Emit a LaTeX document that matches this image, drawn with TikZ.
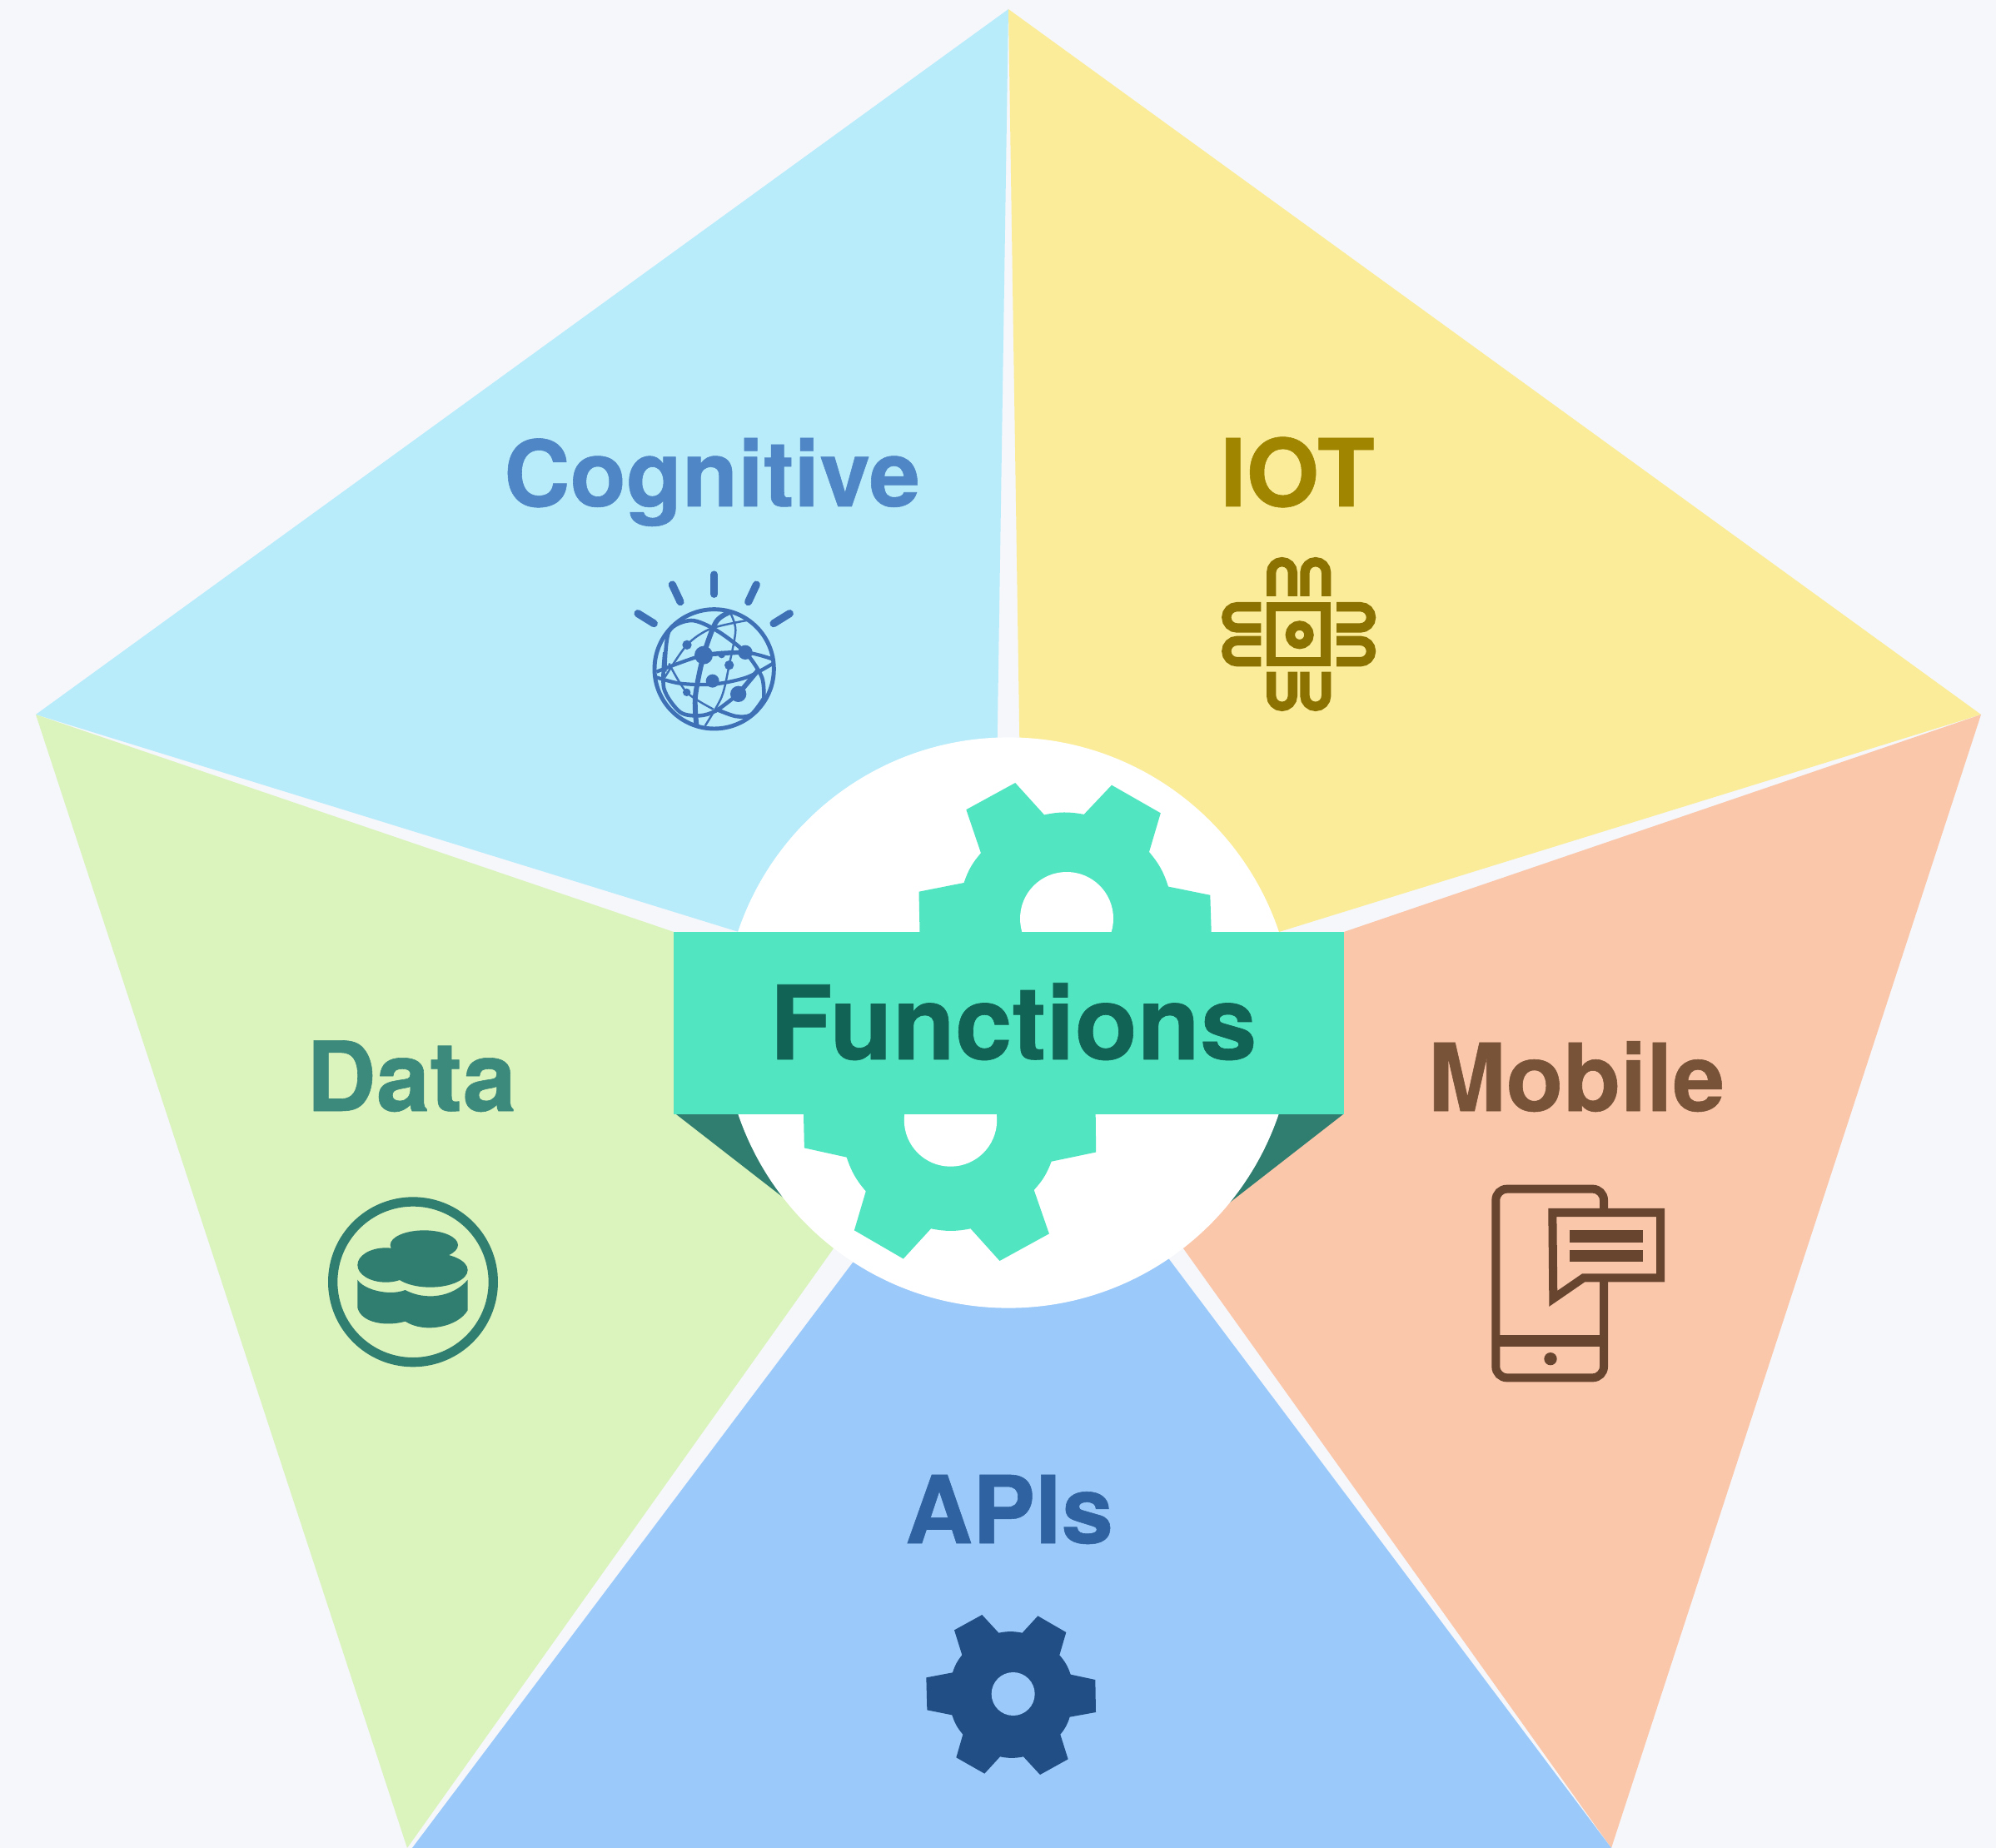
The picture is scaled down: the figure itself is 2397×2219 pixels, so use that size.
\documentclass[tikz,border=0pt]{standalone}
\usepackage{fontspec}
\setmainfont[BoldFeatures={FakeBold=0.5}]{TeX Gyre Heros}
\usepackage{tikz}
\definecolor{pagebg}{HTML}{F5F7FB}
\definecolor{cogfill}{HTML}{B8ECFB}
\definecolor{iotfill}{HTML}{FBEC99}
\definecolor{mobfill}{HTML}{FAC7AB}
\definecolor{apifill}{HTML}{9BC9FA}
\definecolor{datfill}{HTML}{DBF3BC}
\definecolor{mint}{HTML}{52E5C2}
\definecolor{fold}{HTML}{2F7E70}
\definecolor{cogtext}{HTML}{4E86C6}
\definecolor{iottext}{HTML}{A08600}
\definecolor{dattext}{HTML}{3B8A7C}
\definecolor{mobtext}{HTML}{785338}
\definecolor{apitext}{HTML}{2F62A0}
\definecolor{funtext}{HTML}{116355}
\definecolor{cogicon}{HTML}{3E70B6}
\definecolor{iothue}{HTML}{8C7200}
\definecolor{mobicon}{HTML}{68452F}
\definecolor{apiicon}{HTML}{214E85}

\begin{document}
\begin{tikzpicture}[x=0.01cm, y=-0.01cm]
    \tikzstyle{heading}[32] = [font=\bfseries\fontsize{#1}{#1}\selectfont, anchor=base, inner sep=0pt]
    \tikzstyle{icon} = [scale=1/3, line cap=butt]
    \tikzstyle{thick3} = [line width=3.22pt]
    \tikzstyle{chipline} = [draw=iothue, thick3]

    \useasboundingbox (0,0) rectangle (2397,2219);
    \fill [pagebg] (0,0) rectangle (2397,2219);

    % petals
    \fill [cogfill] (1211,11) -- (43,858) -- (887,1119) -- (1196,1000) -- cycle;
    \fill [iotfill] (1211,11) -- (2379,858) -- (1536,1119) -- (1226,1000) -- cycle;
    \fill [mobfill] (2379,858) -- (1614,1119) -- (1300,1300) -- (1421,1499) -- (1935,2219) -- cycle;
    \fill [apifill] (495,2219) -- (1935,2219) -- (1404,1512) -- (1211,1400) -- (1024,1516) -- cycle;
    \fill [datfill] (43,858) -- (809,1119) -- (1100,1300) -- (1001,1499) -- (489,2219) -- cycle;

    % ribbon folds
    \fill [fold] (812,1338) -- (960,1453) -- (1100,1338) -- cycle;
    \fill [fold] (1613,1338) -- (1460,1457) -- (1320,1338) -- cycle;

    \fill [white] (1211,1228) circle [radius=342.6];

    % upper half of the big gear
    \fill [mint] (1104.6,1125) -- (1103.5,1070.7) -- (1157.6,1060) to [bend left=11] (1178,1024.3)
        -- (1160.3,972.2) -- (1219.2,940) -- (1254,978.4) to [bend left=11] (1301.7,977.9)
        -- (1335,942.7) -- (1393.8,976.3) -- (1380,1023) to [bend left=11] (1403,1064.6)
        -- (1453.3,1074.8) -- (1454.9,1125) -- cycle;
    \fill [white] (1281,1103) circle [radius=56];

    % lower half of the big gear
    \fill [mint] (964.8,1330) -- (965.9,1378.4) -- (1016.7,1389.6) to [bend right=11] (1039.8,1430.4)
        -- (1025.9,1477.3) -- (1084.8,1511.5) -- (1118,1475.3) to [bend right=11] (1165.6,1475.3)
        -- (1200.5,1514) -- (1259.9,1481.4) -- (1241.7,1428.9) to [bend right=11] (1262.6,1394.7)
        -- (1316.2,1383.5) -- (1315.6,1330) -- cycle;
    \fill [white] (1141.5,1345) circle [radius=55.7];

    % banner
    \fill [mint] (809,1119) rectangle (1614,1338);
    \node (functions) [heading=35, text=funtext] at (1217,1272) {Functions};

    \node (cognitive) [heading=31.3, text=cogtext] at (855,608) {Cognitive};
    \node (iot) [heading=32, text=iottext] at (1558,608) {IOT};
    \node (data) [heading=33, text=dattext] at (494,1334) {Data};
    \node (mobile) [heading=32, text=mobtext] at (1893,1334) {Mobile};
    \node (apis) [heading=32, text=apitext] at (1212,1853) {APIs};

    % globe
    \begin{scope}[shift={(720,650)}, icon, draw=cogicon, fill=cogicon]
        \draw [line width=2.6pt, line cap=round] (413,120) -- (413,190);
        \draw [line width=2.6pt, line cap=round] (262,156) -- (291,218);
        \draw [line width=2.6pt, line cap=round] (565,156) -- (536,218);
        \draw [line width=2.6pt, line cap=round] (138,260) -- (196,296);
        \draw [line width=2.6pt, line cap=round] (685,260) -- (627,296);
        \begin{scope}
            \clip (413,460) circle [radius=218];
            \draw [line width=1.3pt] plot [smooth] coordinates {(235,470) (250,325) (330,285) (420,320) (525,400) (585,490) (592,570)};
            \draw [line width=1.3pt] plot [smooth] coordinates {(235,400) (232,530) (290,615) (360,628) (420,610) (500,550)};
            \draw [line width=1.3pt] plot [smooth] coordinates {(420,605) (490,630) (545,625) (592,565)};
            \draw [line width=1.2pt] plot [smooth] coordinates {(205,470) (375,410) (525,400) (625,425)};
            \draw [line width=1.2pt] plot [smooth] coordinates {(205,490) (290,512) (410,515) (530,490) (625,440)};
            \draw [line width=1.7pt] plot [smooth] coordinates {(350,670) (345,560) (375,410) (420,290) (470,255)};
            \draw [line width=0.7pt] plot [smooth] coordinates {(470,255) (490,320) (467,446) (440,560) (380,665)};
            \draw [line width=0.7pt] plot [smooth] coordinates {(235,490) (315,373) (400,315) (530,285)};
            \draw [line width=0.7pt] plot [smooth] coordinates {(250,440) (314,544) (410,605)};
            \draw [line width=1.6pt] (500,550) -- (575,460);
            \draw [line width=1.2pt] (375,410) -- (525,400);
        \end{scope}
        \draw [line width=1.4pt] (413,460) circle [radius=215];
        \fill (375,410) circle [radius=33];
        \fill (525,400) circle [radius=26];
        \fill (315,373) circle [radius=17];
        \fill (440,408) circle [radius=13];
        \fill (467,446) circle [radius=17];
        \fill (407,503) circle [radius=24];
        \fill (314,544) circle [radius=14];
        \fill (500,550) circle [radius=29];
    \end{scope}

    % chip
    \begin{scope}[shift={(1430,640)}, icon, chipline]
        \draw (290,266) rectangle (486,464);
        \draw (392,367) circle [radius=34];
        \draw (290,228) -- (290,142.5) arc [start angle=180, end angle=360, radius=38.5] -- (367,228);
        \draw (411,228) -- (411,142.5) arc [start angle=180, end angle=360, radius=38.5] -- (488,228);
        \draw (290,500) -- (290,586.5) arc [start angle=180, end angle=0, radius=38.5] -- (367,500);
        \draw (411,500) -- (411,586.5) arc [start angle=180, end angle=0, radius=38.5] -- (488,500);
        \draw (253,266) -- (166.5,266) arc [start angle=270, end angle=90, radius=38] -- (253,342);
        \draw (253,388) -- (166.5,388) arc [start angle=270, end angle=90, radius=38] -- (253,464);
        \draw (525,266) -- (611.5,266) arc [start angle=270, end angle=450, radius=38] -- (525,342);
        \draw (525,388) -- (611.5,388) arc [start angle=270, end angle=450, radius=38] -- (525,464);
    \end{scope}

    % database
    \begin{scope}[shift={(370,1410)}, icon, fill=fold, draw=fold]
        \draw [thick3] (378,388) circle [radius=289];
        \fill (418,255) ellipse [x radius=122, y radius=53];
        \fill (280,327) ellipse [x radius=102, y radius=62];
        \fill (440,345) ellipse [x radius=135, y radius=62];
        \fill (178,380) .. controls (200,415) and (290,440) .. (350,417)
            .. controls (420,455) and (520,445) .. (575,380)
            -- (575,490) .. controls (540,550) and (420,575) .. (350,530)
            .. controls (280,550) and (190,535) .. (178,480) -- cycle;
    \end{scope}

    % phone with speech bubble
    \begin{scope}[shift={(1760,1400)}, icon, draw=mobicon, fill=mobicon]
        \draw [line width=2.85pt, rounded corners=3.8pt] (109,83) rectangle (498,763);
        \fill (109,608) rectangle (498,650);
        \fill (306,695) circle [radius=23];
        \draw [line width=2.85pt, fill=mobfill] (313,168) -- (702,168) -- (702,403) -- (425,403) -- (316,478) -- cycle;
        \fill (375,231) rectangle (639,276);
        \fill (375,303) rectangle (639,345);
    \end{scope}

    % small gear
    \begin{scope}[shift={(1080,1920)}, icon]
        \fill [apiicon] (198,112) -- (298,57) -- (358,122) to [bend left=11] (443,122)
            -- (499,61) -- (601,120) -- (577,202) to [bend left=11] (617,272)
            -- (706,291) -- (708,408) -- (614,425) to [bend left=11] (580,488)
            -- (608,577) -- (507,633) -- (447,568) to [bend left=11] (363,568)
            -- (307,629) -- (205,571) -- (229,488) to [bend left=11] (190,418)
            -- (100,400) -- (97,283) -- (192,265) to [bend left=11] (226,202) -- cycle;
        \fill [apifill] (410,342) circle [radius=78];
    \end{scope}
\end{tikzpicture}
\end{document}
